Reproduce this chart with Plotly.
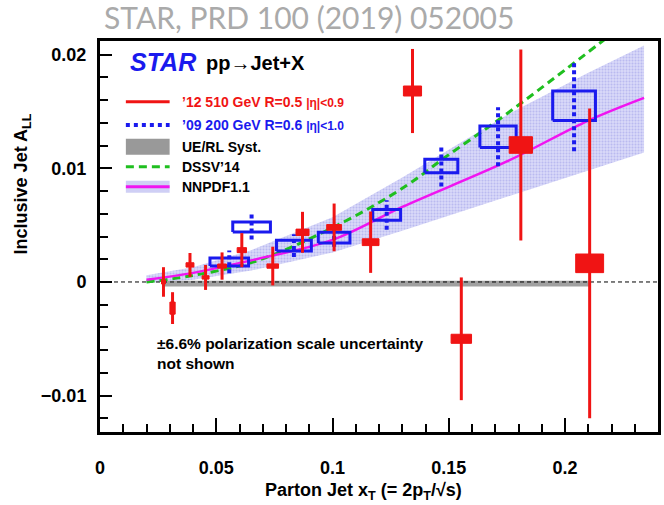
import plotly.graph_objects as go

# ---- '12 510 GeV, R=0.5, |eta|<0.9 : A_LL vs parton-jet x_T ----
red_x = [0.0273, 0.0312, 0.0387, 0.0454, 0.0525, 0.0610, 0.0743, 0.0871,
         0.1007, 0.1164, 0.1344, 0.1554, 0.1810, 0.2106]
red_y = [0.0000, -0.0023, 0.0015, 0.0004, 0.0014, 0.0028, 0.0014, 0.00437,
         0.0048, 0.0035, 0.0168, -0.0050, 0.01205, 0.00164]
red_stat = [0.0013, 0.0014, 0.00105, 0.0011, 0.0012, 0.0015, 0.0017, 0.0018,
            0.0021, 0.0027, 0.0037, 0.0054, 0.0084, 0.01363]
red_sys_dx = [0.00085, 0.00113, 0.0017, 0.0015, 0.0019, 0.0020, 0.0025, 0.0028,
              0.0032, 0.0036, 0.0039, 0.0044, 0.0050, 0.0060]
red_sys_dy = [0.00018, 0.00053, 0.00019, 0.00015, 0.00018, 0.00022, 0.00019, 0.00028,
              0.00025, 0.00030, 0.00044, 0.00040, 0.00073, 0.00082]

# ---- '09 200 GeV, R=0.6, |eta|<1.0 ----
blue_x = [0.0556, 0.0652, 0.0834, 0.1007, 0.1233, 0.1468, 0.1712, 0.2039]
blue_y = [0.00176, 0.00484, 0.0032, 0.0039, 0.0059, 0.0102, 0.01278, 0.0155]
blue_stat = [0.0010, 0.0011, 0.0010, 0.0008, 0.0013, 0.0018, 0.0026, 0.0040]
blue_sys_dx = [0.0083, 0.0081, 0.0075, 0.0068, 0.0060, 0.0071, 0.0078, 0.0092]
blue_sys_dy = [0.00035, 0.00044, 0.00048, 0.00048, 0.00048, 0.00059, 0.00094, 0.0013]

# ---- UE/RL systematic band ----
ue_x = [0.0273, 0.2106]
ue_lo = [-0.0004, -0.0004]
ue_hi = [0.0001, 0.0001]

# ---- theory curves ----
dssv_x = [0.020, 0.038, 0.068, 0.105, 0.132, 0.148, 0.175, 0.2206]
dssv_y = [0.0000, 0.0005, 0.0019, 0.0053, 0.0085, 0.0109, 0.0148, 0.0219]

nnpdf_x = [0.020, 0.040, 0.065, 0.100, 0.130, 0.175, 0.210, 0.234]
nnpdf_y = [0.0002, 0.0008, 0.0019, 0.0037, 0.0066, 0.0106, 0.0142, 0.0162]
nnpdf_hi = [0.0006, 0.0013, 0.0028, 0.0057, 0.0092, 0.0147, 0.0184, 0.0208]
nnpdf_lo = [-0.0001, 0.0002, 0.0010, 0.0026, 0.0045, 0.0075, 0.0098, 0.0114]

x_ticks = [0, 0.05, 0.10, 0.15, 0.20]
x_ticktext = ["0", "0.05", "0.1", "0.15", "0.2"]
y_ticks = [-0.01, 0.0, 0.01, 0.02]
y_ticktext = ["\u22120.01", "0", "0.01", "0.02"]

RED = "#f01414"
BLUE = "#1a1aee"
GREEN = "#1fbf1f"
MAGENTA = "#f014f0"
FONT = "Liberation Sans, Arial, sans-serif"

W, H = 664, 505
ML, MR, MT, MB = 100, 3, 41, 73


def px(xp):
    return (xp - ML) / (W - ML - MR)


def py(yp):
    return (H - MB - yp) / (H - MT - MB)


def boxes(xs, ys, dxs, dys):
    bx, by = [], []
    for x, y, dx, dy in zip(xs, ys, dxs, dys):
        bx += [x - dx, x + dx, x + dx, x - dx, x - dx, None]
        by += [y - dy, y - dy, y + dy, y + dy, y - dy, None]
    return bx, by


def bars(xs, ys, errs):
    bx, by = [], []
    for x, y, e in zip(xs, ys, errs):
        bx += [x, x, None]
        by += [y - e, y + e, None]
    return bx, by


fig = go.Figure()

# NNPDF1.1 uncertainty band
fig.add_trace(go.Scatter(
    x=nnpdf_x + nnpdf_x[::-1], y=nnpdf_hi + nnpdf_lo[::-1],
    fill="toself", mode="lines", line=dict(width=0),
    fillcolor="#d4d4f6",
    fillpattern=dict(shape=".", fgcolor="#9c9ce8", bgcolor="#d8d8f8", size=3, solidity=0.35),
    hoverinfo="skip", showlegend=False))

# UE/RL systematic band
fig.add_trace(go.Scatter(
    x=ue_x + ue_x[::-1], y=ue_hi + ue_lo[::-1],
    fill="toself", mode="lines", line=dict(width=0),
    fillcolor="#a0a0a0", hoverinfo="skip", showlegend=False))

# zero reference line
fig.add_trace(go.Scatter(
    x=[0, 0.24], y=[0, 0], mode="lines",
    line=dict(color="black", width=1, dash="4px,3px"),
    hoverinfo="skip", showlegend=False))

# DSSV'14
fig.add_trace(go.Scatter(
    x=dssv_x, y=dssv_y, mode="lines", line_shape="spline",
    line=dict(color=GREEN, width=3, dash="8px,5px"), showlegend=False))

# NNPDF1.1 central
fig.add_trace(go.Scatter(
    x=nnpdf_x, y=nnpdf_y, mode="lines", line_shape="spline",
    line=dict(color=MAGENTA, width=2.5), showlegend=False))

# 2009 data: open systematic boxes + dotted statistical bars
bx, by = boxes(blue_x, blue_y, blue_sys_dx, blue_sys_dy)
fig.add_trace(go.Scatter(x=bx, y=by, mode="lines",
                         line=dict(color=BLUE, width=3), showlegend=False))
ex, ey = bars(blue_x, blue_y, blue_stat)
fig.add_trace(go.Scatter(x=ex, y=ey, mode="lines",
                         line=dict(color=BLUE, width=4, dash="4px,3px"), showlegend=False))

# 2012 data: statistical bars + filled systematic boxes
ex, ey = bars(red_x, red_y, red_stat)
fig.add_trace(go.Scatter(x=ex, y=ey, mode="lines",
                         line=dict(color=RED, width=3), showlegend=False))
bx, by = boxes(red_x, red_y, red_sys_dx, red_sys_dy)
fig.add_trace(go.Scatter(x=bx, y=by, mode="lines", fill="toself",
                         fillcolor=RED, line=dict(color=RED, width=1), showlegend=False))

# ---- legend drawn inside the frame ----
shapes = []
ann = []
lx0, lx1 = px(126), px(170)
rows = [101.7, 125, 146.7, 166.7, 186.7]
shapes.append(dict(type="line", xref="paper", yref="paper", x0=lx0, x1=lx1,
                   y0=py(rows[0]), y1=py(rows[0]), line=dict(color=RED, width=3)))
shapes.append(dict(type="line", xref="paper", yref="paper", x0=lx0, x1=lx1,
                   y0=py(rows[1]), y1=py(rows[1]), line=dict(color=BLUE, width=4, dash="4px,4px")))
shapes.append(dict(type="rect", xref="paper", yref="paper", x0=lx0, x1=lx1,
                   y0=py(rows[2] + 8), y1=py(rows[2] - 8), fillcolor="#999999", line=dict(width=0)))
shapes.append(dict(type="line", xref="paper", yref="paper", x0=lx0, x1=lx1,
                   y0=py(rows[3]), y1=py(rows[3]), line=dict(color=GREEN, width=3, dash="8px,5px")))
shapes.append(dict(type="rect", xref="paper", yref="paper", x0=lx0, x1=lx1,
                   y0=py(rows[4] + 6), y1=py(rows[4] - 6), fillcolor="#cfcff5", line=dict(width=0)))
shapes.append(dict(type="line", xref="paper", yref="paper", x0=lx0, x1=lx1,
                   y0=py(rows[4]), y1=py(rows[4]), line=dict(color=MAGENTA, width=3)))


def label(x, y, text, size, color="black", anchor="left", angle=0,
          family=FONT, weight="bold", style="normal"):
    ann.append(dict(xref="paper", yref="paper", x=px(x), y=py(y), text=text,
                    showarrow=False, xanchor=anchor, yanchor="middle", align="left",
                    textangle=angle,
                    font=dict(family=family, size=size, color=color,
                              weight=weight, style=style)))


label(128, 62, "STAR", 25, BLUE, style="italic")
label(205, 63, "pp\u2192Jet+X", 20)
label(180, rows[0], "\u201912 510 GeV R=0.5 <span style='font-size:12px'>|\u03b7|&lt;0.9</span>", 14, RED)
label(180, rows[1], "\u201909 200 GeV R=0.6 <span style='font-size:12px'>|\u03b7|&lt;1.0</span>", 14, BLUE)
label(180, rows[2], "UE/RL Syst.", 14)
label(180, rows[3], "DSSV\u201914", 14)
label(180, rows[4], "NNPDF1.1", 14)

label(155, 353, "\u00b16.6% polarization scale uncertainty<br>not shown", 15.5)

# axis titles and header
label(22, 184, "Inclusive Jet A<sub>LL</sub>", 18, anchor="center", angle=-90)
label(365, 491, "Parton Jet x<sub>T</sub> (= 2p<sub>T</sub>/\u221as)", 18, anchor="center")
label(102, 17, "STAR, PRD 100 (2019) 052005", 30, "#aaaaaa",
      family="Lato, Open Sans, sans-serif", weight="normal")

axis_common = dict(showgrid=False, zeroline=False, showline=True, linecolor="black",
                   linewidth=3, mirror=True, ticks="inside", tickcolor="black",
                   tickwidth=2,
                   tickfont=dict(family=FONT, size=18, color="black", weight="bold"))

fig.update_layout(
    width=W, height=H,
    margin=dict(l=ML, r=MR, t=MT, b=MB, pad=0),
    paper_bgcolor="white", plot_bgcolor="white",
    showlegend=False,
    shapes=shapes, annotations=ann,
    xaxis=dict(range=[0, 0.24], tickvals=x_ticks, ticktext=x_ticktext,
               ticklen=14, ticklabelstandoff=17,
               minor=dict(dtick=0.01, tick0=0, ticks="inside", ticklen=8,
                          tickwidth=2, tickcolor="black"),
               **axis_common),
    yaxis=dict(range=[-0.0132, 0.0212], tickvals=y_ticks, ticktext=y_ticktext,
               ticklen=12, ticklabelstandoff=7,
               minor=dict(dtick=0.002, tick0=0, ticks="inside", ticklen=8,
                          tickwidth=2, tickcolor="black"),
               **axis_common),
)

fig.write_html("out.html")
